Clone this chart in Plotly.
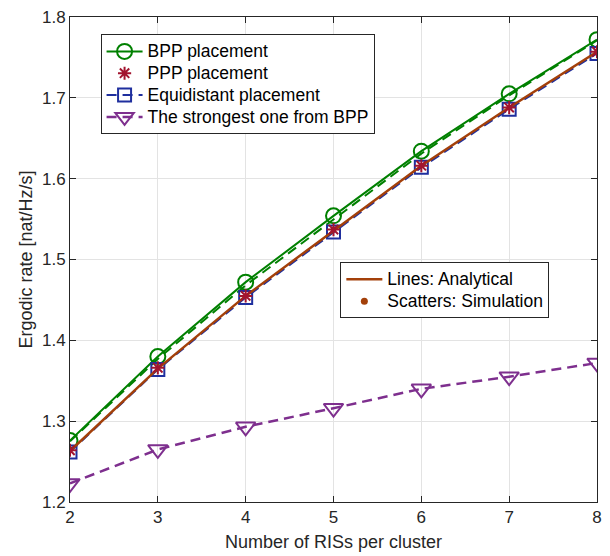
import plotly.graph_objects as go

N = [2, 3, 4, 5, 6, 7, 8]
bpp_sim = [1.276, 1.380, 1.472, 1.554, 1.634, 1.705, 1.772]
bpp_ana = [1.275, 1.377, 1.468, 1.550, 1.631, 1.703, 1.771]
ppp_sim = [1.264, 1.366, 1.455, 1.537, 1.616, 1.688, 1.757]
ppp_ana = [1.263, 1.365, 1.455, 1.536, 1.616, 1.688, 1.757]
equi = [1.262, 1.364, 1.453, 1.534, 1.614, 1.686, 1.755]
strongest = [1.223, 1.265, 1.293, 1.316, 1.340, 1.355, 1.372]
yticks = [1.2, 1.3, 1.4, 1.5, 1.6, 1.7, 1.8]

GREEN = "#008000"
BLUE = "#1F2F9E"
BROWN = "#A3400A"
RED = "#A2142F"
PURPLE = "#7E2F8E"
FONT = "Liberation Sans, Arial, sans-serif"
DASH = "10px,6px"


def big(s):
    return f'<span style="font-size:17.5px">{s}</span>'


fig = go.Figure()
fig.add_trace(go.Scatter(x=N, y=bpp_ana, mode="lines", line=dict(color=GREEN, width=2, dash=DASH),
                         showlegend=False))
fig.add_trace(go.Scatter(x=N, y=bpp_sim, mode="lines+markers", name=big("BPP placement"),
                         line=dict(color=GREEN, width=2),
                         marker=dict(symbol="circle-open", size=15, color=GREEN, line=dict(width=2)),
                         legend="legend", legendrank=1))
fig.add_trace(go.Scatter(x=N, y=equi, mode="lines+markers", name=big("Equidistant placement"),
                         line=dict(color=BLUE, width=2, dash=DASH),
                         marker=dict(symbol="square-open", size=13, color=BLUE, line=dict(width=2)),
                         legend="legend", legendrank=3))
fig.add_trace(go.Scatter(x=N, y=ppp_ana, mode="lines", line=dict(color=BROWN, width=2.5),
                         showlegend=False))
fig.add_trace(go.Scatter(x=N, y=ppp_sim, mode="markers", name=big("PPP placement"),
                         marker=dict(symbol="asterisk-open", size=11, color=RED, line=dict(width=2, color=RED)),
                         legend="legend", legendrank=2))
fig.add_trace(go.Scatter(x=N, y=strongest, mode="lines+markers", name=big("The strongest one from BPP"),
                         line=dict(color=PURPLE, width=2.5, dash=DASH),
                         marker=dict(symbol="triangle-down-open", size=17, color=PURPLE, line=dict(width=2)),
                         legend="legend", legendrank=4))
# second legend entries
fig.add_trace(go.Scatter(x=[None], y=[None], mode="lines", name=big("Lines: Analytical"),
                         line=dict(color=BROWN, width=2.5), legend="legend2", legendrank=1))
fig.add_trace(go.Scatter(x=[None], y=[None], mode="markers", name=big("Scatters: Simulation"),
                         marker=dict(symbol="circle", size=7, color=BROWN), legend="legend2", legendrank=2))

axis_common = dict(showline=True, linecolor="#262626", linewidth=1, mirror="ticks",
                   ticks="inside", ticklen=6, tickcolor="#262626",
                   showgrid=True, gridcolor="#E3E3E3", gridwidth=1, zeroline=False,
                   ticklabeloverflow="allow",
                   tickfont=dict(family=FONT, size=17, color="#262626"))

fig.update_layout(
    width=610, height=556,
    margin=dict(l=70, r=8, t=8, b=50),
    paper_bgcolor="white", plot_bgcolor="white",
    font=dict(family=FONT, size=17, color="#262626"),
    xaxis=dict(range=[2, 8], tickvals=N, ticktext=[str(v) for v in N],
               title=dict(text="Number of RISs per cluster", font=dict(size=18), standoff=8),
               **axis_common),
    yaxis=dict(range=[1.2, 1.8], tickvals=yticks, ticktext=[f"{v:.1f}" for v in yticks],
               title=dict(text="Ergodic rate [nat/Hz/s]", font=dict(size=18), standoff=4),
               **axis_common),
    legend=dict(x=0.058, y=0.964, xanchor="left", yanchor="top",
                bgcolor="white", bordercolor="#262626", borderwidth=1,
                font=dict(family=FONT, size=14.5, color="black"), tracegroupgap=0,
                itemwidth=36, traceorder="normal"),
    legend2=dict(x=0.513, y=0.494, xanchor="left", yanchor="top",
                 bgcolor="white", bordercolor="#262626", borderwidth=1,
                 font=dict(family=FONT, size=14.5, color="black"), tracegroupgap=0,
                 itemwidth=36, traceorder="normal"),
)

fig.write_html("out.html")
